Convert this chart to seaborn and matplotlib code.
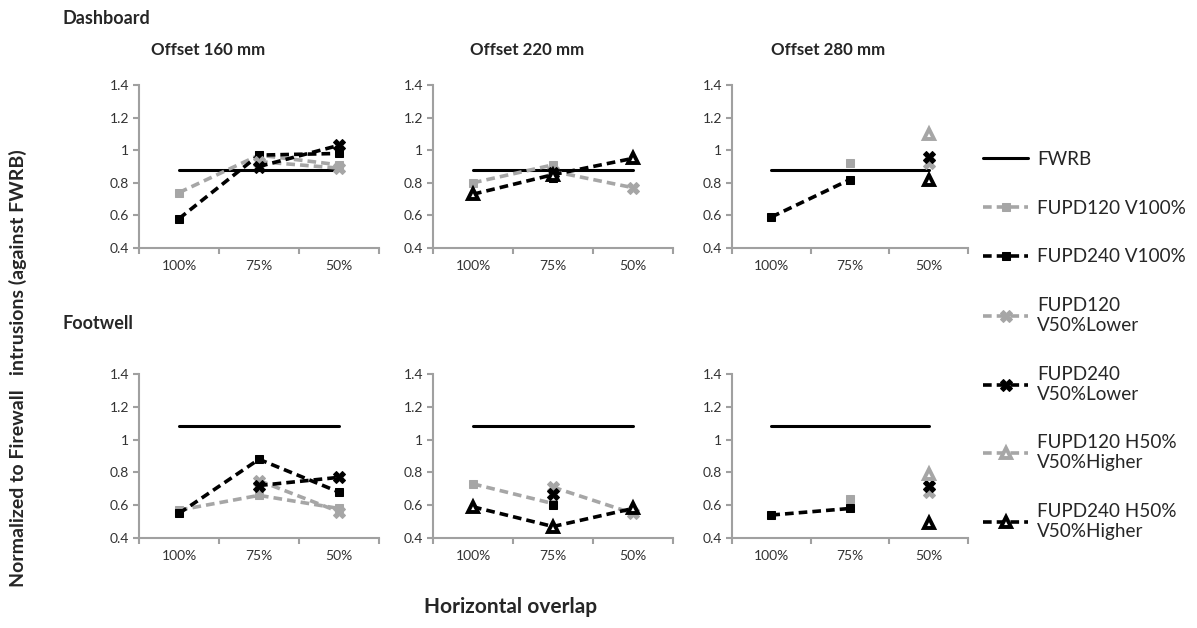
import numpy as np
import pandas as pd
import seaborn as sns
import matplotlib.pyplot as plt

nan = np.nan

# Constants
OVERLAP = ["100%", "75%", "50%"]
OFFSETS = ["Offset 160 mm", "Offset 220 mm", "Offset 280 mm"]
Y_TICKS = [0.4, 0.6, 0.8, 1.0, 1.2, 1.4]
Y_TICK_LABELS = ["0.4", "0.6", "0.8", "1", "1.2", "1.4"]

FWRB_DASH = 0.88
FWRB_FOOT = 1.08

# one row per offset (160, 220, 280 mm), one value per overlap (100%, 75%, 50%)
DASH_120_V100 = [[0.74, 0.97, 0.91], [0.80, 0.91, nan], [nan, 0.92, nan]]
DASH_240_V100 = [[0.58, 0.97, 0.98], [nan, 0.83, nan], [0.59, 0.82, nan]]
DASH_120_LOW = [[nan, 0.93, 0.89], [nan, 0.87, 0.77], [nan, nan, 0.92]]
DASH_240_LOW = [[nan, 0.90, 1.03], [nan, 0.86, nan], [nan, nan, 0.96]]
DASH_120_HIGH = [[nan, nan, nan], [nan, nan, nan], [nan, nan, 1.10]]
DASH_240_HIGH = [[nan, nan, nan], [0.73, 0.85, 0.95], [nan, nan, 0.82]]

FOOT_120_V100 = [[0.57, 0.66, 0.58], [0.73, 0.61, nan], [nan, 0.64, nan]]
FOOT_240_V100 = [[0.55, 0.88, 0.68], [nan, 0.60, nan], [0.54, 0.58, nan]]
FOOT_120_LOW = [[nan, 0.75, 0.56], [nan, 0.71, 0.55], [nan, nan, 0.68]]
FOOT_240_LOW = [[nan, 0.72, 0.77], [nan, 0.67, nan], [nan, nan, 0.72]]
FOOT_120_HIGH = [[nan, nan, nan], [nan, nan, nan], [nan, nan, 0.79]]
FOOT_240_HIGH = [[nan, nan, nan], [0.59, 0.47, 0.58], [nan, nan, 0.49]]

SERIES = [
    "FUPD120 V100%",
    "FUPD240 V100%",
    "FUPD120\nV50%Lower",
    "FUPD240\nV50%Lower",
    "FUPD120 H50%\nV50%Higher",
    "FUPD240 H50%\nV50%Higher",
]

GREY = "#A6A6A6"
SPINE = "#A0A0A0"
DASH = (0, (2.4, 1.4))

STYLES = {
    SERIES[0]: dict(color=GREY, marker="s", ms=6, mfc=GREY, mec=GREY),
    SERIES[1]: dict(color="black", marker="s", ms=6, mfc="black", mec="black"),
    SERIES[2]: dict(color=GREY, marker="X", ms=8, mfc=GREY, mec=GREY),
    SERIES[3]: dict(color="black", marker="X", ms=8, mfc="black", mec="black"),
    SERIES[4]: dict(color=GREY, marker="^", ms=6.5, mfc="white", mec=GREY, mew=2.8),
    SERIES[5]: dict(color="black", marker="^", ms=6.5, mfc="white", mec="black", mew=2.8),
}

REGIONS = {
    "dash": [DASH_120_V100, DASH_240_V100, DASH_120_LOW,
             DASH_240_LOW, DASH_120_HIGH, DASH_240_HIGH],
    "foot": [FOOT_120_V100, FOOT_240_V100, FOOT_120_LOW,
             FOOT_240_LOW, FOOT_120_HIGH, FOOT_240_HIGH],
}
FWRB = {"dash": FWRB_DASH, "foot": FWRB_FOOT}

# Long table
rows = []
for region, arrays in REGIONS.items():
    for name, arr in zip(SERIES, arrays):
        for k, offset_vals in enumerate(arr):
            for i, v in enumerate(offset_vals):
                rows.append((region, k, name, i, v))
df = pd.DataFrame(rows, columns=["region", "offset", "series", "pos", "value"])

sns.set_style("white")
plt.rcParams["font.family"] = ["Lato", "DejaVu Sans"]

W, H = 1197, 628
fig = plt.figure(figsize=(W / 100, H / 100), dpi=100)


def px_axes(left, top, width, height):
    return fig.add_axes([left / W, 1 - (top + height) / H, width / W, height / H])


LEFTS = [139, 433, 732]
WIDTHS = [240, 240, 236]
TOPS = {"dash": (85, 163), "foot": (374, 164)}

for region, (top, height) in TOPS.items():
    for k in range(3):
        ax = px_axes(LEFTS[k], top, WIDTHS[k], height)
        sns.lineplot(x=[0, 2], y=[FWRB[region]] * 2, ax=ax, color="black",
                     lw=2.2, label="FWRB")
        sub = df[(df.region == region) & (df.offset == k)].dropna()
        for name in SERIES:
            s = sub[sub.series == name]
            if s.empty:
                continue
            sns.lineplot(data=s, x="pos", y="value", ax=ax, lw=2.6,
                         linestyle=DASH, label=name, **STYLES[name])
        ax.get_legend().remove()

        ax.set_xlim(-0.5, 2.5)
        ax.set_ylim(0.4, 1.4)
        ax.set_yticks(Y_TICKS, Y_TICK_LABELS)
        ax.set_xticks([-0.5, 0.5, 1.5, 2.5])
        ax.set_xticklabels([])
        ax.set_xticks([0, 1, 2], minor=True)
        ax.set_xticklabels(OVERLAP, minor=True)
        ax.tick_params(axis="x", which="minor", length=0, pad=9, labelsize=10,
                       labelcolor="#333333")
        ax.tick_params(axis="x", which="major", length=4, width=1.5,
                       color=SPINE, direction="out", bottom=True)
        ax.tick_params(axis="y", length=4, width=1.5, color=SPINE, left=True,
                       direction="out", labelsize=10, labelcolor="#333333", pad=3)
        ax.set_xlabel("")
        ax.set_ylabel("")
        sns.despine(ax=ax)
        for side in ["left", "bottom"]:
            ax.spines[side].set_color(SPINE)
            ax.spines[side].set_linewidth(1.5)

# Legend from all plotted lines
seen = {}
for ax in fig.axes:
    for line in ax.get_lines():
        lab = line.get_label()
        if not lab.startswith("_") and lab not in seen:
            seen[lab] = line
order = ["FWRB"] + SERIES
fig.legend([seen[n] for n in order], order, loc="upper left",
           bbox_to_anchor=(966 / W, 1 - 134 / H), frameon=False,
           fontsize=13.6, labelspacing=1.68, handlelength=2.4,
           handletextpad=0.45)

# Titles and labels
fig.text(62 / W, 1 - 18 / H, "Dashboard", fontsize=13, fontweight="bold",
         va="center")
fig.text(62 / W, 1 - 323 / H, "Footwell", fontsize=13, fontweight="bold",
         va="center")
for k, cx in enumerate([208, 527, 828]):
    fig.text(cx / W, 1 - 50 / H, OFFSETS[k], fontsize=12.2, fontweight="bold",
             ha="center", va="center")
fig.text(18 / W, 1 - 368 / H, "Normalized to Firewall   intrusions (against FWRB)",
         rotation=90, fontsize=14, fontweight="bold", ha="center", va="center")
fig.text(511 / W, 1 - 607 / H, "Horizontal overlap", fontsize=15,
         fontweight="bold", ha="center", va="center")

plt.savefig("out.png", dpi=100, facecolor="white")
